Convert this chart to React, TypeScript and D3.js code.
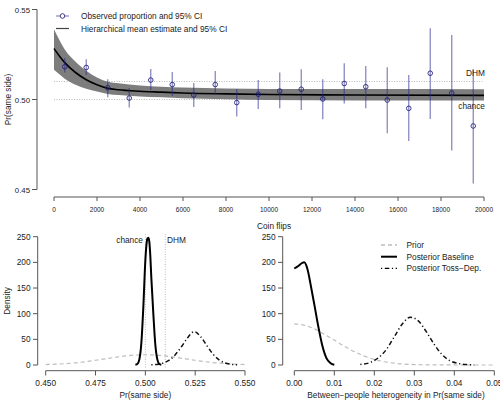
import React from "react";
import * as d3 from "d3";

// ---------- Top panel data ----------
const binCenters = [500, 1500, 2500, 3500, 4500, 5500, 6500, 7500, 8500, 9500, 10500, 11500, 12500, 13500, 14500, 15500, 16500, 17500, 18500, 19500];
const observed = [0.5182, 0.5178, 0.5065, 0.5008, 0.5108, 0.5083, 0.5025, 0.5083, 0.4983, 0.5029, 0.5047, 0.5057, 0.5003, 0.5089, 0.5071, 0.4997, 0.4951, 0.5146, 0.5036, 0.4853];
const ciLow = [0.5150, 0.5136, 0.5012, 0.4956, 0.5053, 0.5019, 0.4958, 0.5025, 0.4906, 0.4947, 0.4951, 0.4942, 0.4890, 0.4978, 0.4952, 0.4812, 0.4769, 0.4892, 0.4717, 0.4534];
const ciHigh = [0.5230, 0.5223, 0.5112, 0.5064, 0.5169, 0.5153, 0.5092, 0.5158, 0.5058, 0.5108, 0.5150, 0.5168, 0.5112, 0.5201, 0.5186, 0.5179, 0.5136, 0.5396, 0.5358, 0.5169];

const curveX = [0, 250, 500, 1000, 1500, 2000, 2500, 3000, 4000, 5000, 6000, 8000, 10000, 14000, 20000];
const curveMean = [0.5283, 0.5242, 0.5205, 0.5150, 0.5110, 0.5082, 0.5062, 0.5054, 0.5046, 0.5041, 0.5036, 0.5031, 0.5028, 0.5025, 0.5023];
const curveUpper = [0.5390, 0.5330, 0.5278, 0.5210, 0.5160, 0.5122, 0.5099, 0.5090, 0.5078, 0.5071, 0.5066, 0.5061, 0.5059, 0.5058, 0.5057];
const curveLower = [0.5165, 0.5140, 0.5115, 0.5082, 0.5060, 0.5045, 0.5031, 0.5025, 0.5017, 0.5012, 0.5007, 0.5001, 0.4997, 0.4995, 0.4994];

const topXTicks = [0, 2000, 4000, 6000, 8000, 10000, 12000, 14000, 16000, 18000, 20000];
const topYTicks = [0.45, 0.5, 0.55];

// ---------- Bottom-left data (Pr(same side)) ----------
const priorLX = [0.450, 0.455, 0.460, 0.465, 0.470, 0.475, 0.480, 0.485, 0.490, 0.495, 0.500, 0.505, 0.510, 0.515, 0.520, 0.525, 0.530, 0.535, 0.540, 0.545, 0.550];
const priorLY = [0.9, 1.6, 2.7, 4.3, 6.5, 9.2, 12.1, 15.0, 17.6, 19.4, 20.0, 19.4, 17.6, 15.0, 12.1, 9.2, 6.5, 4.3, 2.7, 1.6, 0.9];
const baseLX = [0.4950, 0.4960, 0.4970, 0.4980, 0.4990, 0.5000, 0.5005, 0.5010, 0.5015, 0.5020, 0.5025, 0.5030, 0.5040, 0.5050, 0.5060, 0.5070, 0.5080];
const baseLY = [0.5, 2, 11, 43, 114, 204, 232, 246, 248, 240, 212, 170, 100, 40, 11, 2, 0.5];
const tossLX = [0.503, 0.506, 0.509, 0.512, 0.515, 0.518, 0.521, 0.5245, 0.528, 0.531, 0.534, 0.537, 0.540, 0.543, 0.546];
const tossLY = [0.5, 1.2, 4.0, 9.5, 20, 35, 52, 65, 54, 37, 21, 10, 4, 1.4, 0.4];
const leftXTicks = [0.45, 0.475, 0.5, 0.525, 0.55];
const densTicks = [0, 50, 100, 150, 200, 250];
const refLines = [0.5, 0.51];

// ---------- Bottom-right data (heterogeneity) ----------
const priorRX = [0, 0.0025, 0.005, 0.0075, 0.01, 0.0125, 0.015, 0.0175, 0.02, 0.0225, 0.025, 0.03, 0.035, 0.04, 0.045, 0.05];
const priorRY = [80, 77.5, 70.6, 60, 48.5, 36.6, 26, 17.3, 10.8, 6.4, 3.5, 0.9, 0.2, 0.05, 0, 0];
const baseRX = [0, 0.001, 0.002, 0.0025, 0.003, 0.0035, 0.004, 0.005, 0.006, 0.007, 0.008, 0.009, 0.010];
const baseRY = [188, 193, 199, 200, 194, 180, 160, 118, 75, 38, 14, 4, 0.5];
const tossRX = [0.0165, 0.019, 0.021, 0.023, 0.025, 0.027, 0.029, 0.031, 0.033, 0.035, 0.037, 0.039, 0.041, 0.043, 0.045];
const tossRY = [1, 5, 14, 30, 55, 80, 93, 86, 65, 40, 20, 8, 3, 0.8, 0.2];
const rightXTicks = [0, 0.01, 0.02, 0.03, 0.04, 0.05];
const legendLabels = ["Prior", "Posterior Baseline", "Posterior Toss\u2212Dep."];
const rightXLabel = "Between\u2212people heterogeneity in Pr(same side)";

const FONT = "'Liberation Sans', Arial, Helvetica, sans-serif";
const AX = "#555";
const TXT = "#222";
const PT = "rgba(40,40,140,0.55)";
const PTC = "rgba(30,30,120,0.85)";
const PRIOR = "#bdbdbd";
const DOTDASH = "1.2,2.6,4.5,2.6";

export default function App() {
  // top scales
  const tx = d3.scaleLinear().domain([0, 20000]).range([54, 484]);
  const ty = d3.scaleLinear().domain([0.45, 0.55]).range([189.5, 9.5]);
  const bandArea = d3
    .area<number>()
    .x((_, i) => tx(curveX[i]))
    .y0((_, i) => ty(curveLower[i]))
    .y1((_, i) => ty(curveUpper[i]))
    .curve(d3.curveMonotoneX);
  const meanLine = d3
    .line<number>()
    .x((_, i) => tx(curveX[i]))
    .y((d) => ty(d))
    .curve(d3.curveMonotoneX);

  // bottom scales
  const ly = d3.scaleLinear().domain([0, 250]).range([365, 236.7]);
  const lx = d3.scaleLinear().domain([0.45, 0.55]).range([45.7, 245]);
  const rx = d3.scaleLinear().domain([0, 0.05]).range([294.3, 494.3]);

  const mk = (xs: number[], xScale: d3.ScaleLinear<number, number>) =>
    d3
      .line<number>()
      .x((_, i) => xScale(xs[i]))
      .y((d) => ly(d))
      .curve(d3.curveMonotoneX);

  const fs = 8.3;

  return (
    <svg width={500} height={404} style={{ position: "absolute", left: 0, top: 0, background: "#fff" }} fontFamily={FONT}>
      <rect x={0} y={0} width={500} height={404} fill="#fff" />
      {/* ---------- TOP PANEL ---------- */}
      {refLines.map((v) => (
        <line key={"tr" + v} x1={tx(0)} x2={tx(20000)} y1={ty(v)} y2={ty(v)} stroke="#aaa" strokeWidth={0.8} strokeDasharray="1,1.5" />
      ))}
      <path d={bandArea(curveMean) || ""} fill="#7d7d7d" />
      <path d={meanLine(curveMean) || ""} fill="none" stroke="#000" strokeWidth={1.6} />
      {binCenters.map((b, i) => (
        <g key={"p" + i}>
          <line x1={tx(b)} x2={tx(b)} y1={ty(ciLow[i])} y2={ty(ciHigh[i])} stroke={PT} strokeWidth={1.3} />
          <circle cx={tx(b)} cy={ty(observed[i])} r={2.3} fill="none" stroke={PTC} strokeWidth={1} />
        </g>
      ))}
      <text x={485} y={76} fontSize={fs} fill={TXT} textAnchor="end">DHM</text>
      <text x={485} y={109} fontSize={fs} fill={TXT} textAnchor="end">chance</text>
      {/* legend */}
      <line x1={56} x2={69} y1={16} y2={16} stroke={PT} strokeWidth={1.2} />
      <circle cx={62.5} cy={16} r={2.3} fill="#fff" stroke={PTC} strokeWidth={1} />
      <text x={81} y={19} fontSize={fs} fill={TXT}>Observed proportion and 95% CI</text>
      <line x1={56} x2={69} y1={28.5} y2={28.5} stroke="#444" strokeWidth={1.2} />
      <text x={81} y={31.5} fontSize={fs} fill={TXT}>Hierarchical mean estimate and 95% CI</text>
      {/* top axes */}
      <line x1={37} x2={37} y1={ty(0.45)} y2={ty(0.55)} stroke={AX} />
      {topYTicks.map((t) => (
        <g key={"ty" + t}>
          <line x1={32} x2={37} y1={ty(t)} y2={ty(t)} stroke={AX} />
          <text x={30} y={ty(t) + 3} fontSize={7.8} fill={TXT} textAnchor="end">{t.toFixed(2)}</text>
        </g>
      ))}
      <text transform={`translate(11,${ty(0.5)}) rotate(-90)`} fontSize={fs} fill={TXT} textAnchor="middle">Pr(same side)</text>
      <line x1={tx(0)} x2={tx(20000)} y1={197} y2={197} stroke={AX} />
      {topXTicks.map((t) => (
        <g key={"tx" + t}>
          <line x1={tx(t)} x2={tx(t)} y1={197} y2={201} stroke={AX} />
          <text x={tx(t)} y={212} fontSize={6.5} fill={TXT} textAnchor="middle">{t}</text>
        </g>
      ))}

      {/* ---------- BOTTOM LEFT ---------- */}
      {refLines.map((v) => (
        <line key={"lr" + v} x1={lx(v)} x2={lx(v)} y1={234} y2={368} stroke="#aaa" strokeWidth={0.8} strokeDasharray="1,1.5" />
      ))}
      <path d={mk(priorLX, lx)(priorLY) || ""} fill="none" stroke={PRIOR} strokeWidth={1.2} strokeDasharray="4,3" />
      <path d={mk(tossLX, lx)(tossLY) || ""} fill="none" stroke="#111" strokeWidth={1.5} strokeDasharray={DOTDASH} />
      <path d={mk(baseLX, lx)(baseLY) || ""} fill="none" stroke="#000" strokeWidth={2} />
      <text x={143} y={242.5} fontSize={fs} fill={TXT} textAnchor="end">chance</text>
      <text x={167} y={242.5} fontSize={fs} fill={TXT}>DHM</text>
      <line x1={37.7} x2={37.7} y1={ly(0)} y2={ly(250)} stroke={AX} />
      {densTicks.map((t) => (
        <g key={"ly" + t}>
          <line x1={33} x2={37.7} y1={ly(t)} y2={ly(t)} stroke={AX} />
          <text x={30.5} y={ly(t) + 3} fontSize={fs} fill={TXT} textAnchor="end">{t}</text>
        </g>
      ))}
      <text transform={`translate(10,${ly(125)}) rotate(-90)`} fontSize={fs} fill={TXT} textAnchor="middle">Density</text>
      <line x1={lx(0.45)} x2={lx(0.55)} y1={370.7} y2={370.7} stroke={AX} />
      {leftXTicks.map((t) => (
        <g key={"lx" + t}>
          <line x1={lx(t)} x2={lx(t)} y1={370.7} y2={375.5} stroke={AX} />
          <text x={lx(t)} y={386} fontSize={fs} fill={TXT} textAnchor="middle">{t.toFixed(3)}</text>
        </g>
      ))}
      <text x={lx(0.5)} y={398} fontSize={fs} fill={TXT} textAnchor="middle">Pr(same side)</text>

      {/* ---------- BOTTOM RIGHT ---------- */}
      <text x={274} y={228.5} fontSize={fs} fill={TXT} textAnchor="middle">Coin flips</text>
      <path d={mk(priorRX, rx)(priorRY) || ""} fill="none" stroke={PRIOR} strokeWidth={1.2} strokeDasharray="4,3" />
      <path d={mk(tossRX, rx)(tossRY) || ""} fill="none" stroke="#111" strokeWidth={1.5} strokeDasharray={DOTDASH} />
      <path d={mk(baseRX, rx)(baseRY) || ""} fill="none" stroke="#000" strokeWidth={2} />
      {/* legend */}
      {legendLabels.map((lab, i) => {
        const y = 245 + i * 11.7;
        const stroke = i === 0 ? PRIOR : "#000";
        const dash = i === 0 ? "4,3" : i === 2 ? DOTDASH : undefined;
        return (
          <g key={lab}>
            <line x1={381} x2={397} y1={y} y2={y} stroke={stroke} strokeWidth={i === 1 ? 2 : 1.4} strokeDasharray={dash} />
            <text x={406.5} y={y + 3} fontSize={fs} fill={TXT}>{lab}</text>
          </g>
        );
      })}
      <line x1={282.7} x2={282.7} y1={ly(0)} y2={ly(250)} stroke={AX} />
      {densTicks.map((t) => (
        <g key={"ry" + t}>
          <line x1={278} x2={282.7} y1={ly(t)} y2={ly(t)} stroke={AX} />
          <text x={275.5} y={ly(t) + 3} fontSize={fs} fill={TXT} textAnchor="end">{t}</text>
        </g>
      ))}
      <line x1={rx(0)} x2={rx(0.05)} y1={370.7} y2={370.7} stroke={AX} />
      {rightXTicks.map((t) => (
        <g key={"rx" + t}>
          <line x1={rx(t)} x2={rx(t)} y1={370.7} y2={375.5} stroke={AX} />
          <text x={rx(t)} y={386} fontSize={fs} fill={TXT} textAnchor="middle">{t.toFixed(2)}</text>
        </g>
      ))}
      <text x={396} y={398} fontSize={fs} fill={TXT} textAnchor="middle">{rightXLabel}</text>
    </svg>
  );
}
